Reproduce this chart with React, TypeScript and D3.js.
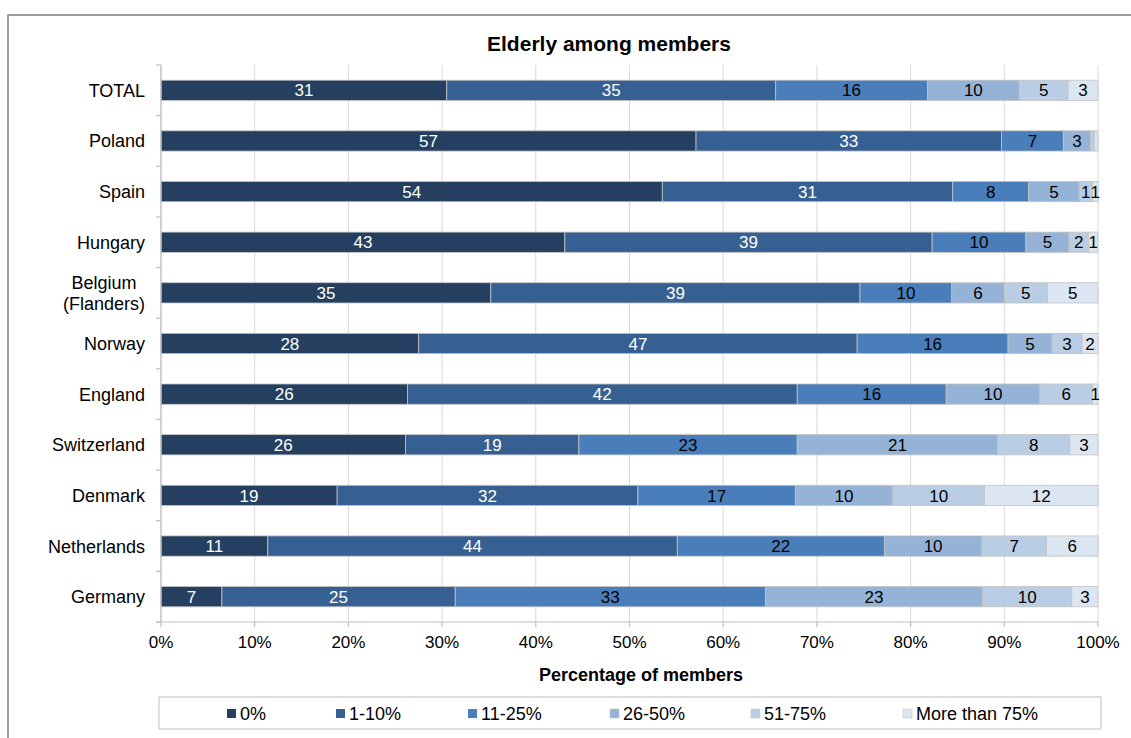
import React from "react";
import * as d3 from "d3";

const title = "Elderly among members";
const xAxisTitle = "Percentage of members";
const categories = ["TOTAL", "Poland", "Spain", "Hungary", "Belgium\n(Flanders)", "Norway", "England", "Switzerland", "Denmark", "Netherlands", "Germany"];
const seriesNames = ["0%", "1-10%", "11-25%", "26-50%", "51-75%", "More than 75%"];
const s0pct = [30.5, 57.1, 53.5, 43.1, 35.2, 27.5, 26.3, 26.1, 18.8, 11.4, 6.5];
const s1to10 = [35.1, 32.6, 31.0, 39.2, 39.4, 46.8, 41.6, 18.5, 32.1, 43.7, 24.9];
const s11to25 = [16.2, 6.6, 8.1, 10.0, 9.8, 16.1, 15.9, 23.3, 16.8, 22.1, 33.1];
const s26to50 = [9.8, 2.9, 5.4, 4.6, 5.6, 4.7, 10.0, 21.4, 10.4, 10.4, 23.2];
const s51to75 = [5.2, 0.4, 1.4, 2.1, 4.6, 3.2, 5.6, 7.7, 9.8, 6.9, 9.5];
const sOver75 = [3.2, 0.4, 0.6, 1.0, 5.4, 1.7, 0.6, 3.0, 12.1, 5.5, 2.8];
const xTicks = [0, 10, 20, 30, 40, 50, 60, 70, 80, 90, 100];

const colors = ["#243f60", "#376092", "#4a7ebb", "#95b3d7", "#b9cde5", "#dce6f2"];
const labelColors = ["#ffffff", "#ffffff", "#000000", "#000000", "#000000", "#000000"];
const legendX = [227, 336, 468, 610, 751, 903];
const FONT = "'Liberation Sans', Arial, sans-serif";

const W = 1131;
const H = 738;

function measure(text: string, size: number, weight = "normal"): number {
  const c = document.createElement("canvas").getContext("2d");
  if (!c) return text.length * size * 0.55;
  c.font = `${weight} ${size}px ${FONT}`;
  return c.measureText(text).width;
}

export default function App() {
  const allSeries = [s0pct, s1to10, s11to25, s26to50, s51to75, sOver75];
  const rows = categories.map((c, i) => {
    const r: any = { cat: c };
    seriesNames.forEach((s, j) => (r[s] = allSeries[j][i]));
    return r;
  });
  const stacked = d3.stack<any>().keys(seriesNames)(rows);

  const x = d3.scaleLinear().domain([0, 100]).range([161, 1098]);
  const y = d3.scaleBand<string>().domain(categories).range([65, 622]).paddingInner(0.6).paddingOuter(0.3);
  const step = y.step();
  const bandEdges = d3.range(categories.length + 1).map((i) => 65 + i * step);

  const labelFont = 17;
  const catFont = 18;
  const catRight = 145;

  return (
    <div style={{ position: "absolute", left: 0, top: 0 }}>
      <svg width={W} height={H} style={{ display: "block", background: "#fff" }} fontFamily={FONT}>
        <rect x={8} y={15} width={W + 20} height={H + 20} fill="#fff" stroke="#7f7f7f" strokeWidth={1.5} />
        <text x={609} y={51} textAnchor="middle" fontSize={21} fontWeight="bold" fill="#000">
          {title}
        </text>
        {/* gridlines */}
        {xTicks.map((t) => (
          <line key={"g" + t} x1={x(t)} x2={x(t)} y1={65} y2={622} stroke="#d9d9d9" strokeWidth={1} />
        ))}
        {/* bars */}
        {stacked.map((layer, si) => (
          <g key={layer.key}>
            {layer.map((d, i) => {
              const x0 = x(d[0]);
              const x1 = x(d[1]);
              const yy = y(categories[i]) as number;
              return (
                <rect key={i} x={x0} y={yy} width={Math.max(0, x1 - x0)} height={y.bandwidth()} fill={colors[si]} stroke="#c3c3c3" strokeWidth={0.8} />
              );
            })}
          </g>
        ))}
        {/* bar labels */}
        {stacked.map((layer, si) => (
          <g key={"l" + layer.key}>
            {layer.map((d, i) => {
              const v = d[1] - d[0];
              const lbl = Math.round(v + 1e-9);
              if (lbl === 0) return null;
              const cx = (x(d[0]) + x(d[1])) / 2;
              const cy = (y(categories[i]) as number) + y.bandwidth() / 2;
              return (
                <text key={i} x={cx} y={cy} dy="0.36em" textAnchor="middle" fontSize={labelFont} fill={labelColors[si]}>
                  {lbl}
                </text>
              );
            })}
          </g>
        ))}
        {/* axes */}
        <line x1={161} x2={161} y1={65} y2={622} stroke="#bfbfbf" strokeWidth={1.2} />
        {bandEdges.map((e, i) => (
          <line key={"yt" + i} x1={156} x2={161} y1={e} y2={e} stroke="#bfbfbf" strokeWidth={1.2} />
        ))}
        <line x1={156} x2={1098} y1={622} y2={622} stroke="#bfbfbf" strokeWidth={1.2} />
        {xTicks.map((t) => (
          <g key={"xt" + t}>
            <line x1={x(t)} x2={x(t)} y1={622} y2={627} stroke="#bfbfbf" strokeWidth={1.2} />
            <text x={x(t)} y={648} textAnchor="middle" fontSize={17} fill="#000">
              {t + "%"}
            </text>
          </g>
        ))}
        {/* category labels */}
        {categories.map((c) => {
          const lines = c.split("\n");
          const cy = (y(c) as number) + y.bandwidth() / 2;
          const maxW = Math.max(...lines.map((l) => measure(l, catFont)));
          const cx = catRight - maxW / 2;
          const lh = 21;
          return (
            <g key={"c" + c}>
              {lines.map((l, k) => (
                <text key={k} x={cx} y={cy + (k - (lines.length - 1) / 2) * lh} dy="0.36em" textAnchor="middle" fontSize={catFont} fill="#000">
                  {l}
                </text>
              ))}
            </g>
          );
        })}
        <text x={641} y={681} textAnchor="middle" fontSize={18} fontWeight="bold" fill="#000">
          {xAxisTitle}
        </text>
        {/* legend */}
        <rect x={159} y={697} width={942} height={32} fill="#fff" stroke="#bfbfbf" strokeWidth={1} />
        {seriesNames.map((s, i) => (
          <g key={"lg" + s}>
            <rect x={legendX[i]} y={709} width={9} height={9} fill={colors[i]} stroke={i >= 3 ? "#c3c3c3" : "none"} strokeWidth={0.6} />
            <text x={legendX[i] + 13} y={713.5} dy="0.36em" fontSize={18} fill="#000">
              {s}
            </text>
          </g>
        ))}
      </svg>
    </div>
  );
}
